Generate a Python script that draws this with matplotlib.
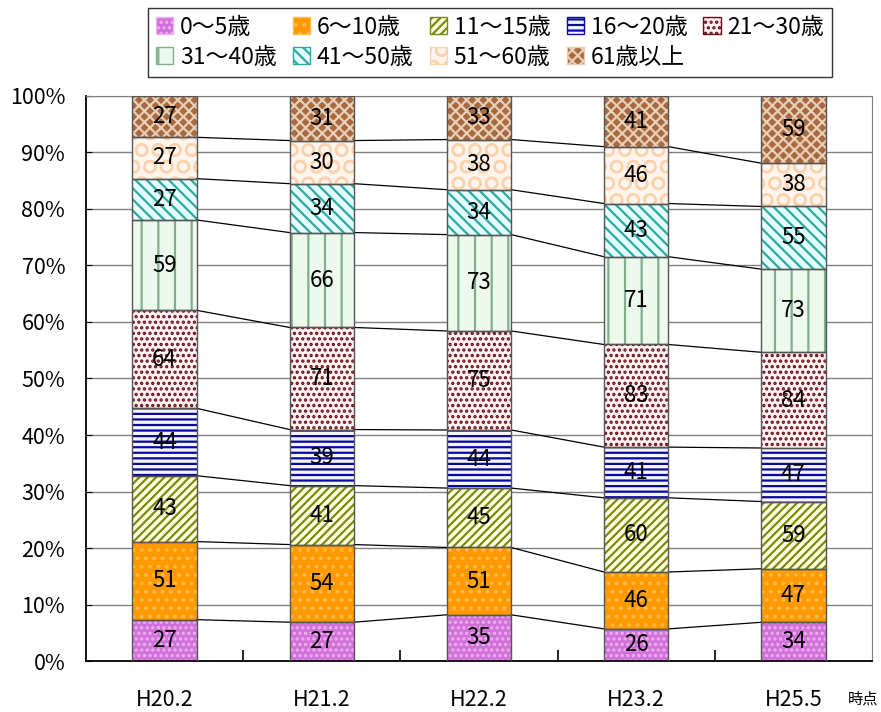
import numpy as np
from matplotlib import pyplot as plt
from matplotlib.patches import Patch

plt.rcParams['font.family'] = ['Noto Sans CJK JP', 'DejaVu Sans']
plt.rcParams['hatch.linewidth'] = 1.6

# survey points and age groups
periods = ['H20.2', 'H21.2', 'H22.2', 'H23.2', 'H25.5']
groups = ['0～5歳', '6～10歳', '11～15歳', '16～20歳', '21～30歳',
          '31～40歳', '41～50歳', '51～60歳', '61歳以上']

# counts per age group (bottom to top), one list per period
counts = np.array([
    [27, 27, 35, 26, 34],   # 0~5
    [51, 54, 51, 46, 47],   # 6~10
    [43, 41, 45, 60, 59],   # 11~15
    [44, 39, 44, 41, 47],   # 16~20
    [64, 71, 75, 83, 84],   # 21~30
    [59, 66, 73, 71, 73],   # 31~40
    [27, 34, 34, 43, 55],   # 41~50
    [27, 30, 38, 46, 38],   # 51~60
    [27, 31, 33, 41, 59],   # 61+
])

# fill colour, hatch, hatch colour for each group
faces = ['#D070D8', '#FF9900', '#FFFFE0', '#F4F4FF', '#FFF2F2',
         '#EEF9EE', '#E4FFFF', '#FFF5EC', '#A86A40']
hatches = ['...', '..', '////', '---', '...', '|', '\\\\\\', 'O', 'xxx']
hcolors = ['#EDB0F0', '#FFB84A', '#7A8A10', '#0A0A9A', '#6B0F1A',
           '#7DB08B', '#2FA8A0', '#FAD2AE', '#E8CFB5']

share = counts / counts.sum(axis=0) * 100
bottoms = np.vstack([np.zeros(len(periods)), np.cumsum(share, axis=0)[:-1]])
tops = bottoms + share

x = np.arange(len(periods))
w = 0.41

fig = plt.figure(figsize=(8.81, 7.12), dpi=100)
ax = fig.add_axes([0.0976, 0.0716, 0.8922, 0.7936])

ax.set_yticks(np.arange(0, 101, 10))
ax.yaxis.grid(True, color='#808080', lw=1)
ax.set_axisbelow(True)

for i in range(len(groups)):
    ax.bar(x, share[i], w, bottom=bottoms[i], color=faces[i],
           hatch=hatches[i], edgecolor=hcolors[i], lw=0, zorder=2)
    ax.bar(x, share[i], w, bottom=bottoms[i], fill=False,
           edgecolor='#555555', lw=1, zorder=3)
    for j in range(len(periods)):
        ax.text(x[j], bottoms[i][j] + share[i][j] / 2, str(counts[i][j]),
                ha='center', va='center', fontsize=16, zorder=4)

# series lines between bars
for i in range(len(groups) - 1):
    for j in range(len(periods) - 1):
        ax.plot([x[j] + w / 2, x[j + 1] - w / 2], [tops[i][j], tops[i][j + 1]],
                color='black', lw=0.9, zorder=2)

ax.set_xlim(-0.5, len(periods) - 0.5)
ax.set_ylim(0, 100)
ax.set_yticklabels([f'{v}%' for v in range(0, 101, 10)], fontsize=15.5)
ax.set_xticks(x)
ax.set_xticklabels(periods, fontsize=15.5)
ax.set_xticks(x[:-1] + 0.5, minor=True)
ax.tick_params(axis='x', which='major', length=0, pad=20)
ax.tick_params(axis='x', which='minor', direction='in', length=8, width=1.2)
ax.tick_params(axis='y', direction='in', length=4, pad=15)
for s in ['top', 'right']:
    ax.spines[s].set_color('#808080')
for s in ['left', 'bottom']:
    ax.spines[s].set_color('black')
    ax.spines[s].set_linewidth(1.3)

fig.text(0.962, 0.012, '時点', fontsize=11, ha='left', va='baseline')

handles = [Patch(facecolor=faces[i], hatch=hatches[i], edgecolor=hcolors[i])
           for i in range(len(groups))]
order = [0, 5, 1, 6, 2, 7, 3, 8, 4]
leg = fig.legend([handles[k] for k in order], [groups[k] for k in order],
                 ncol=5, loc='upper left', bbox_to_anchor=(0.168, 0.989),
                 fontsize=16.5, frameon=True, fancybox=False, edgecolor='black',
                 handlelength=0.75, handleheight=0.75, handletextpad=0.3,
                 columnspacing=0.7, labelspacing=0.3, borderpad=0.35,
                 borderaxespad=0)
leg.get_frame().set_linewidth(1)

fig.savefig('out.png', dpi=100)
